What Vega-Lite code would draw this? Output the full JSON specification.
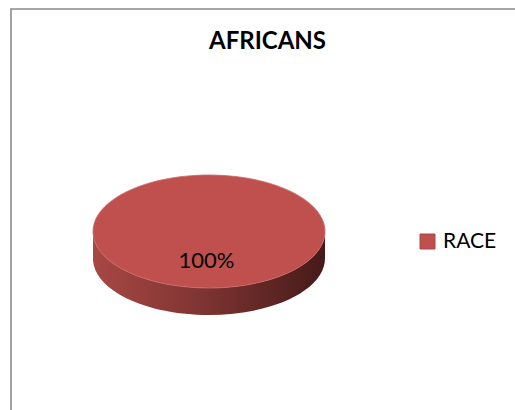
{
  "$schema": "https://vega.github.io/schema/vega-lite/v6.json",
  "autosize": "none",
  "padding": {"left": 11, "top": 9, "right": 0, "bottom": 0},
  "width": 513,
  "height": 420,
  "background": "white",
  "view": {"stroke": null},
  "config": {
    "font": "Lato"
  },
  "title": {
    "text": "AFRICANS",
    "font": "Lato",
    "fontSize": 24,
    "fontWeight": "bold",
    "color": "#000000",
    "anchor": "middle",
    "orient": "top",
    "baseline": "alphabetic",
    "offset": -41,
    "dy": 24
  },
  "data": {"values": [{"race": "RACE", "share": 1}]},
  "layer": [
    {
      "mark": {
        "type": "rect",
        "fill": null,
        "fillOpacity": 0,
        "cornerRadius": 0,
        "strokeJoin": "miter",
        "stroke": "#8a8a8a",
        "strokeWidth": 1.6
      },
      "encoding": {}
    },
    {
      "mark": {
        "type": "point",
        "filled": true,
        "opacity": 1,
        "size": 53824,
        "xOffset": -58.5,
        "yOffset": 12.5,
        "shape": "M-1,0 L-1,0.233 C-1,0.502 -0.5523,0.72 0,0.72 C0.5523,0.72 1,0.502 1,0.233 L1,0 C1,0.269 0.5523,0.487 0,0.487 C-0.5523,0.487 -1,0.269 -1,0 Z",
        "fill": {
          "gradient": "linear",
          "x1": 0, "y1": 0, "x2": 1, "y2": 0,
          "stops": [
            {"offset": 0, "color": "#a84744"},
            {"offset": 0.5, "color": "#7b3331"},
            {"offset": 1, "color": "#451a19"}
          ]
        },
        "stroke": null
      },
      "encoding": {}
    },
    {
      "mark": {
        "type": "point",
        "filled": true,
        "opacity": 1,
        "size": 53824,
        "xOffset": -58.5,
        "yOffset": 12.5,
        "shape": "M-1,0 C-1,-0.269 -0.5523,-0.487 0,-0.487 C0.5523,-0.487 1,-0.269 1,0 C1,0.269 0.5523,0.487 0,0.487 C-0.5523,0.487 -1,0.269 -1,0 Z",
        "stroke": "#c86a67",
        "strokeWidth": 0.8
      },
      "encoding": {
        "color": {
          "field": "race",
          "type": "nominal",
          "scale": {"range": ["#c0504d"]},
          "legend": {
            "title": null,
            "orient": "none",
            "legendX": 406,
            "legendY": 222,
            "padding": 0,
            "symbolType": "square",
            "symbolSize": 225,
            "symbolStrokeColor": "#a84744",
            "symbolStrokeWidth": 1,
            "symbolOpacity": 1,
            "labelFont": "Lato",
            "labelFontSize": 21,
            "labelColor": "#000000",
            "labelOffset": 5
          }
        }
      }
    },
    {
      "mark": {
        "type": "text",
        "font": "Lato",
        "fontSize": 22,
        "color": "#000000",
        "baseline": "alphabetic",
        "align": "center",
        "xOffset": -61,
        "yOffset": 49
      },
      "encoding": {
        "text": {"field": "share", "type": "quantitative", "format": ".0%"}
      }
    }
  ]
}
